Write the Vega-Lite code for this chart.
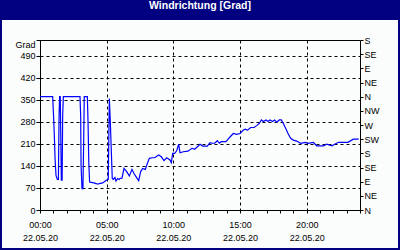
{
  "$schema": "https://vega.github.io/schema/vega-lite/v6.json",
  "width": 320,
  "height": 170,
  "autosize": {"type": "none"},
  "padding": {"left": 40, "top": 40, "right": 40, "bottom": 40},
  "background": "#000080",
  "config": {
    "view": {"fill": "#fbfdfd", "stroke": "#fbfdfd", "strokeWidth": 76},
    "axis": {"labelFont": "Liberation Sans", "labelFontSize": 9, "labelColor": "black", "domainColor": "black", "tickColor": "black", "domainWidth": 1, "tickWidth": 1}
  },
  "title": {
    "text": "Windrichtung [Grad]",
    "color": "white",
    "font": "Liberation Sans",
    "fontSize": 10.5,
    "fontWeight": "bold",
    "anchor": "middle",
    "frame": "group",
    "baseline": "alphabetic",
    "offset": -20,
    "zindex": 2
  },
  "resolve": {"scale": {"y": "independent"}, "axis": {"y": "independent"}},
  "layer": [
    {
      "data": {"values": [
        {"t": 0.0, "v": 360}, {"t": 0.5, "v": 360}, {"t": 0.95, "v": 360}, {"t": 1.02, "v": 296},
        {"t": 1.08, "v": 230}, {"t": 1.13, "v": 163}, {"t": 1.2, "v": 110}, {"t": 1.3, "v": 97},
        {"t": 1.38, "v": 97}, {"t": 1.43, "v": 296}, {"t": 1.47, "v": 360}, {"t": 1.52, "v": 360},
        {"t": 1.56, "v": 230}, {"t": 1.6, "v": 95}, {"t": 1.66, "v": 95}, {"t": 1.7, "v": 300},
        {"t": 1.75, "v": 360}, {"t": 2.5, "v": 360}, {"t": 3.0, "v": 360}, {"t": 3.05, "v": 300},
        {"t": 3.08, "v": 142}, {"t": 3.15, "v": 68}, {"t": 3.22, "v": 68}, {"t": 3.27, "v": 200},
        {"t": 3.32, "v": 360}, {"t": 3.55, "v": 360}, {"t": 3.6, "v": 285}, {"t": 3.66, "v": 150},
        {"t": 3.72, "v": 89}, {"t": 3.85, "v": 88}, {"t": 4.05, "v": 86}, {"t": 4.2, "v": 84},
        {"t": 4.33, "v": 82}, {"t": 4.45, "v": 84}, {"t": 4.7, "v": 86}, {"t": 4.9, "v": 92},
        {"t": 5.0, "v": 95}, {"t": 5.12, "v": 97}, {"t": 5.2, "v": 354}, {"t": 5.27, "v": 285},
        {"t": 5.33, "v": 210}, {"t": 5.42, "v": 100}, {"t": 5.5, "v": 97}, {"t": 5.62, "v": 103},
        {"t": 5.7, "v": 92}, {"t": 5.82, "v": 100}, {"t": 5.95, "v": 97}, {"t": 6.0, "v": 100},
        {"t": 6.15, "v": 101}, {"t": 6.3, "v": 132}, {"t": 6.5, "v": 122}, {"t": 6.7, "v": 108},
        {"t": 6.9, "v": 129}, {"t": 7.05, "v": 116}, {"t": 7.2, "v": 106}, {"t": 7.4, "v": 93},
        {"t": 7.55, "v": 122}, {"t": 7.7, "v": 132}, {"t": 7.9, "v": 129}, {"t": 8.05, "v": 148},
        {"t": 8.2, "v": 164}, {"t": 8.4, "v": 166}, {"t": 8.6, "v": 166}, {"t": 8.9, "v": 175},
        {"t": 9.1, "v": 169}, {"t": 9.3, "v": 157}, {"t": 9.5, "v": 166}, {"t": 9.75, "v": 159},
        {"t": 9.85, "v": 150}, {"t": 9.95, "v": 180}, {"t": 10.1, "v": 180}, {"t": 10.25, "v": 188},
        {"t": 10.4, "v": 209}, {"t": 10.5, "v": 182}, {"t": 10.75, "v": 185}, {"t": 11.1, "v": 187},
        {"t": 11.4, "v": 196}, {"t": 11.6, "v": 193}, {"t": 12.0, "v": 209}, {"t": 12.2, "v": 203},
        {"t": 12.55, "v": 203}, {"t": 12.75, "v": 214}, {"t": 12.9, "v": 212}, {"t": 13.1, "v": 212},
        {"t": 13.3, "v": 220}, {"t": 13.45, "v": 212}, {"t": 13.6, "v": 217}, {"t": 13.95, "v": 217},
        {"t": 14.25, "v": 232}, {"t": 14.5, "v": 243}, {"t": 14.75, "v": 240}, {"t": 15.0, "v": 243},
        {"t": 15.25, "v": 254}, {"t": 15.4, "v": 257}, {"t": 15.55, "v": 253}, {"t": 15.8, "v": 262},
        {"t": 16.05, "v": 262}, {"t": 16.25, "v": 268}, {"t": 16.45, "v": 275}, {"t": 16.6, "v": 286},
        {"t": 16.75, "v": 281}, {"t": 16.95, "v": 286}, {"t": 17.1, "v": 281}, {"t": 17.25, "v": 286},
        {"t": 17.45, "v": 281}, {"t": 17.6, "v": 286}, {"t": 17.75, "v": 279}, {"t": 17.95, "v": 286},
        {"t": 18.1, "v": 286}, {"t": 18.25, "v": 275}, {"t": 18.45, "v": 257}, {"t": 18.6, "v": 243},
        {"t": 18.8, "v": 228}, {"t": 19.0, "v": 222}, {"t": 19.25, "v": 219}, {"t": 19.55, "v": 212},
        {"t": 19.9, "v": 215}, {"t": 20.1, "v": 212}, {"t": 20.5, "v": 215}, {"t": 20.75, "v": 204},
        {"t": 21.25, "v": 204}, {"t": 21.5, "v": 209}, {"t": 21.9, "v": 204}, {"t": 22.1, "v": 209},
        {"t": 22.4, "v": 215}, {"t": 22.9, "v": 215}, {"t": 23.1, "v": 215}, {"t": 23.5, "v": 225},
        {"t": 23.9, "v": 225}
      ]},
      "mark": {"type": "line", "color": "#0000ff", "strokeWidth": 1.2},
      "encoding": {
        "x": {
          "field": "t", "type": "quantitative",
          "scale": {"domain": [0, 24], "nice": false, "zero": false},
          "axis": {
            "title": null,
            "values": [0,1,2,3,4,5,6,7,8,9,10,11,12,13,14,15,16,17,18,19,20,21,22,23,24],
            "tickCount": 50,
            "labelExpr": "datum.value % 5 == 0 && datum.value < 24 ? [(datum.value < 10 ? '0' : '') + datum.value + ':00', '22.05.20'] : ''",
            "labelBaseline": "top",
            "labelLineHeight": 13,
            "labelPadding": 7,
            "labelFlush": false,
            "labelOverlap": false,
            "tickSize": 3,
            "grid": true,
            "gridColor": "black",
            "gridDash": [3, 3],
            "gridOpacity": {"condition": {"test": "datum.value % 5 == 0", "value": 1}, "value": 0}
          }
        },
        "y": {
          "field": "v", "type": "quantitative",
          "scale": {"domain": [0, 540], "nice": false},
          "axis": {
            "orient": "left",
            "title": null,
            "values": [0, 70, 140, 210, 280, 350, 420, 490, 540],
            "tickCount": 50,
            "labelExpr": "datum.value == 540 ? 'Grad' : datum.label",
            "labelBaseline": {"condition": {"test": "datum.value == 540", "value": "top"}, "value": "middle"},
            "labelPadding": 1,
            "labelOverlap": false,
            "labelFlush": false,
            "tickSize": 4,
            "grid": true,
            "gridColor": "black",
            "gridDash": {"condition": {"test": "datum.value == 540", "value": []}, "value": [3, 3]}
          }
        }
      }
    },
    {
      "data": {"values": [{}]},
      "mark": {"type": "rect", "color": "#000080", "clip": false},
      "encoding": {
        "x": {"datum": -3.2, "type": "quantitative", "scale": {"domain": [0, 24], "nice": false, "zero": false}},
        "x2": {"datum": 27.2},
        "y": {
          "datum": 603.5, "type": "quantitative",
          "scale": {"domain": [0, 540], "nice": false},
          "axis": {
            "orient": "right",
            "title": null,
            "values": [0, 45, 90, 135, 180, 225, 270, 315, 360, 405, 450, 495, 540],
            "tickCount": 50,
            "labelExpr": "['N','NE','E','SE','S','SW','W','NW','N','NE','E','SE','S'][round(datum.value / 45)]",
            "labelPadding": 1,
            "labelOverlap": false,
            "labelFlush": false,
            "tickSize": 3,
            "grid": false
          }
        },
        "y2": {"datum": 667.06}
      }
    }
  ]
}
